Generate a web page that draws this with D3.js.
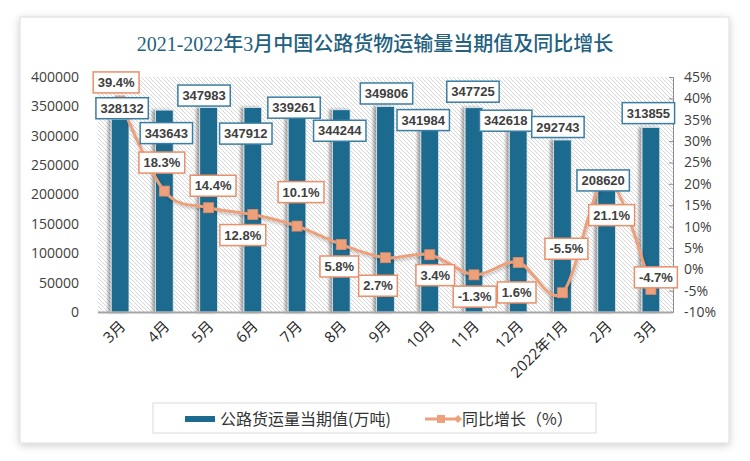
<!DOCTYPE html>
<html><head><meta charset="utf-8">
<script src="https://cdn.jsdelivr.net/npm/d3@7/dist/d3.min.js"></script>
<style>body{margin:0;background:#fff}svg{display:block}</style>
</head><body>
<svg id="c" width="750" height="461"></svg>
<script>
// ---- data ----
const categories = ["3月","4月","5月","6月","7月","8月","9月","10月","11月","12月","2022年1月","2月","3月"];
const volume = [328132,343643,347983,347912,339261,344244,349806,341984,347725,342618,292743,208620,313855];
const yoy = [39.4,18.3,14.4,12.8,10.1,5.8,2.7,3.4,-1.3,1.6,-5.5,21.1,-4.7];
const leftTicks = [0,50000,100000,150000,200000,250000,300000,350000,400000];
const rightTicks = [-10,-5,0,5,10,15,20,25,30,35,40,45];
const seriesNames = ["公路货运量当期值(万吨)","同比增长（%）"];
const title = "2021-2022年3月中国公路货物运输量当期值及同比增长";

// ---- label placement (pixel nudges relative to mark) ----
const volLabelDx = [2,2,-4.5,-7,-3,-1.5,1,-6.5,-1,-12.5,-4.5,-3.5,-2.5];
const volLabelDy = [-11,23,-12,26,-5,21,-13,9,-16,10,-13,-9,-14.5];
const pctLabelDx = [-4,-2.5,4.5,-10,4,-2,-7.5,5.5,0.7,-1.5,4,5,5];
const pctLabelDy = [-18.5,-28.5,-22,20.5,-34,22,28,20.4,21.8,30,-44,36,-12];

const svg = d3.select("#c");
const defs = svg.append("defs");
const cardF = defs.append("filter").attr("id","cardShadow").attr("x","-5%").attr("y","-5%").attr("width","110%").attr("height","115%");
cardF.append("feDropShadow").attr("dx",0).attr("dy",2).attr("stdDeviation",4).attr("flood-color","#000").attr("flood-opacity",0.2);
const barF = defs.append("filter").attr("id","barShadow").attr("x","-50%").attr("y","-5%").attr("width","200%").attr("height","110%");
barF.append("feDropShadow").attr("dx",-3).attr("dy",0).attr("stdDeviation",1.5).attr("flood-color","#000").attr("flood-opacity",0.35);
const lineF = defs.append("filter").attr("id","lineShadow").attr("x","-10%").attr("y","-10%").attr("width","120%").attr("height","130%");
lineF.append("feDropShadow").attr("dx",1).attr("dy",2).attr("stdDeviation",1.5).attr("flood-color","#000").attr("flood-opacity",0.22);
const pat = defs.append("pattern").attr("id","hatch").attr("patternUnits","userSpaceOnUse").attr("width",4).attr("height",4);
pat.append("rect").attr("width",4).attr("height",4).attr("fill","#ffffff");
pat.append("path").attr("d","M-1,-1 L5,5 M-1,3 L1,5 M3,-1 L5,1").attr("stroke","#d6d6d6").attr("stroke-width",1);

// card
svg.append("rect").attr("x",20).attr("y",17).attr("width",709).attr("height",426)
  .attr("fill","#fff").attr("stroke","#dcdcdc").attr("filter","url(#cardShadow)");

svg.append("text").attr("x",375).attr("y",51).attr("text-anchor","middle")
  .attr("font-family","'Liberation Serif','Noto Sans CJK SC',serif").attr("font-size",20).attr("font-weight",500)
  .attr("fill","#23617f").text(title);

const L = 98, R = 673, T = 77, B = 312;
const x = d3.scaleBand().domain(d3.range(categories.length)).range([L,R]).paddingInner(0.6).paddingOuter(0.3);
const yL = d3.scaleLinear().domain([0,400000]).range([B,T]);
const yR = d3.scaleLinear().domain([-10,45]).range([B,T]);

svg.append("rect").attr("x",L).attr("y",T).attr("width",R-L).attr("height",B-T).attr("fill","url(#hatch)");

// left axis labels
const gl = svg.append("g").attr("transform",`translate(${L-16},0)`)
  .call(d3.axisLeft(yL).tickValues(leftTicks).tickSize(0).tickFormat(d3.format("d")));
gl.select(".domain").remove();
gl.selectAll("text").attr("font-family","'Open Sans',sans-serif").attr("font-size",14).attr("fill","#404040");

// right axis
const gr = svg.append("g").attr("transform",`translate(${R},0)`)
  .call(d3.axisRight(yR).tickValues(rightTicks).tickSizeInner(-4).tickSizeOuter(-4).tickPadding(11).tickFormat(d=>d+"%"));
gr.select(".domain").attr("stroke","#8c8c8c");
gr.selectAll("line").attr("stroke","#8c8c8c");
gr.selectAll("text").attr("font-family","'Open Sans',sans-serif").attr("font-size",14).attr("fill","#404040");

// bars
svg.append("g").selectAll("rect").data(volume).join("rect")
  .attr("x",(d,i)=>x(i)).attr("width",x.bandwidth())
  .attr("y",d=>yL(d)).attr("height",d=>B-yL(d))
  .attr("fill","#1c6a8d").attr("stroke","#dbe8ef").attr("stroke-width",0.8)
  .attr("filter","url(#barShadow)");

// baseline
svg.append("line").attr("x1",L).attr("x2",R).attr("y1",B+0.5).attr("y2",B+0.5).attr("stroke","#a6a6a6").attr("stroke-width",2);

// x labels
const gx = svg.append("g").attr("transform",`translate(0,${B})`)
  .call(d3.axisBottom(x).tickSize(0).tickFormat(i=>categories[i]));
gx.select(".domain").remove();
gx.selectAll("text").attr("font-family","'Open Sans','Noto Sans CJK SC',sans-serif").attr("font-size",15).attr("fill","#262626")
  .attr("text-anchor","end").attr("dy",0).attr("transform","translate(4,13) rotate(-45)");

// line
const cx = i => x(i)+x.bandwidth()/2;
const orange = "#eda07c";
svg.append("path").datum(yoy)
  .attr("d",d3.line().x((d,i)=>cx(i)).y(d=>yR(d)).curve(d3.curveCatmullRom.alpha(0)))
  .attr("fill","none").attr("stroke",orange).attr("stroke-width",3).attr("filter","url(#lineShadow)");
svg.append("g").selectAll("rect").data(yoy).join("rect")
  .attr("x",(d,i)=>cx(i)-5).attr("y",d=>yR(d)-5).attr("width",10).attr("height",10)
  .attr("fill",orange).attr("stroke","#e08c68").attr("stroke-width",0.8);

// labels
function addLabel(g, cxv, cyv, txt, border){
  const grp = g.append("g");
  const t = grp.append("text").attr("x",cxv).attr("y",cyv).attr("text-anchor","middle").attr("dy","0.36em")
    .attr("font-family","'Liberation Sans',Arial,sans-serif").attr("font-size",13).attr("font-weight","bold")
    .attr("fill","#404040").text(txt);
  const w = t.node().getComputedTextLength()+9, h = 21;
  grp.insert("rect","text").attr("x",cxv-w/2).attr("y",cyv-h/2).attr("width",w).attr("height",h)
    .attr("fill","#fff").attr("stroke",border).attr("stroke-width",1.5);
}
const lg = svg.append("g");
volume.forEach((d,i)=>addLabel(lg, cx(i)+volLabelDx[i], yL(d)+volLabelDy[i], String(d), "#3a7ea3"));
yoy.forEach((d,i)=>addLabel(lg, cx(i)+pctLabelDx[i], yR(d)+pctLabelDy[i], d.toFixed(1)+"%", "#e8906a"));

// legend
const leg = svg.append("g");
leg.append("rect").attr("x",153).attr("y",403).attr("width",443).attr("height",30).attr("fill","#fff").attr("stroke","#d9d9d9");
leg.append("rect").attr("x",185).attr("y",416).attr("width",30).attr("height",6).attr("fill","#1c6a8d");
leg.append("text").attr("x",220).attr("y",424.5).attr("font-family","'Noto Sans CJK SC',sans-serif").attr("font-size",16)
  .attr("fill","#333").text(seriesNames[0]);
leg.append("line").attr("x1",425).attr("x2",458).attr("y1",419).attr("y2",419).attr("stroke",orange).attr("stroke-width",3);
leg.append("rect").attr("x",437).attr("y",415).attr("width",8).attr("height",8).attr("fill",orange);
leg.append("path").attr("d","M454,419 L458,415 L462,419 L458,423 Z").attr("fill",orange);
leg.append("text").attr("x",462).attr("y",424.5).attr("font-family","'Noto Sans CJK SC',sans-serif").attr("font-size",16)
  .attr("fill","#333").text(seriesNames[1]);
</script>
</body></html>
